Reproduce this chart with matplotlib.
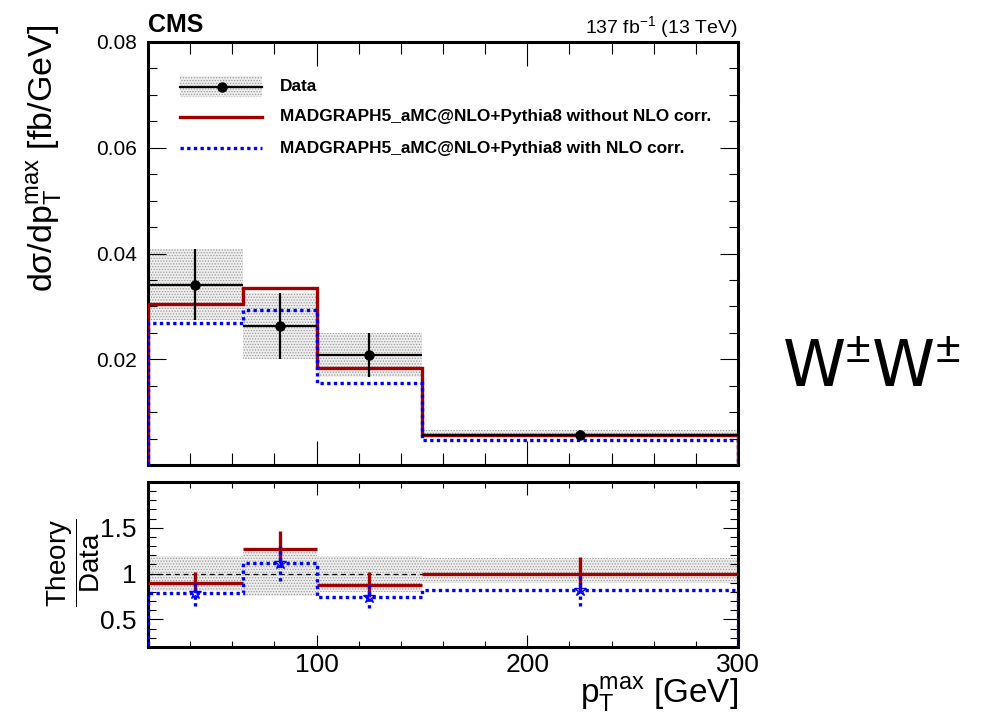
import matplotlib
matplotlib.use("Agg")
import matplotlib.pyplot as plt
import numpy as np
from matplotlib.ticker import MultipleLocator, FixedLocator, FixedFormatter
from matplotlib.lines import Line2D
from matplotlib.patches import Rectangle

plt.rcParams['font.family'] = ['Liberation Sans', 'DejaVu Sans']
plt.rcParams['mathtext.fontset'] = 'custom'
plt.rcParams['mathtext.rm'] = 'Liberation Sans'
plt.rcParams['mathtext.it'] = 'Liberation Sans:italic'
plt.rcParams['mathtext.bf'] = 'Liberation Sans:bold'
plt.rcParams['hatch.linewidth'] = 0.6

# ---- data ----
edges = [20, 65, 100, 150, 300]
data = [0.0341, 0.0263, 0.0208, 0.0057]
data_err_up = [0.0067, 0.0062, 0.0041, 0.0010]
data_err_dn = [0.0066, 0.0063, 0.0042, 0.0006]
pred_noNLO = [0.0305, 0.0335, 0.0183, 0.0057]
pred_NLO = [0.0269, 0.0294, 0.0156, 0.0047]
ratio_noNLO_err_up = [0.12, 0.19, 0.14, 0.18]
ratio_noNLO_err_dn = [0.10, 0.16, 0.13, 0.17]
ratio_NLO_err_up = [0.14, 0.18, 0.15, 0.16]
ratio_NLO_err_dn = [0.14, 0.20, 0.13, 0.18]
legend_labels = ["Data",
                 "MADGRAPH5_aMC@NLO+Pythia8 without NLO corr.",
                 "MADGRAPH5_aMC@NLO+Pythia8 with NLO corr."]

edges_a = np.array(edges, dtype=float)
centers = 0.5 * (edges_a[:-1] + edges_a[1:])
halfw = 0.5 * (edges_a[1:] - edges_a[:-1])
data_a = np.array(data)
up = np.array(data_err_up)
dn = np.array(data_err_dn)
red_a = np.array(pred_noNLO)
blue_a = np.array(pred_NLO)

RED = '#a00000'
BLUE = '#0000ff'
BAND_FC = '#eeeeee'
BAND_HC = '#9a9a9a'
DOTS = (0, (1, 1))

fig = plt.figure(figsize=(9.96, 7.13), dpi=100)
ax1 = fig.add_axes([0.1486, 0.3478, 0.5924, 0.5933])
ax2 = fig.add_axes([0.1486, 0.0926, 0.5924, 0.2314])

# ---- main panel ----
ax1.stairs(data_a + up, edges_a, baseline=data_a - dn, fill=True,
           facecolor=BAND_FC, edgecolor=BAND_HC, hatch='......', lw=0, zorder=1)
ax1.stairs(red_a, edges_a, baseline=0, color=RED, lw=2.4, zorder=3)
ax1.stairs(blue_a, edges_a, baseline=0, color=BLUE, lw=2.4, ls=DOTS, zorder=4)
ax1.errorbar(centers, data_a, yerr=[dn, up], xerr=halfw, fmt='o', color='black',
             ms=6.5, lw=1.6, capsize=0, zorder=5)
ax1.set_xlim(20, 300)
ax1.set_ylim(0, 0.08)

# legend (manual)
tr = ax1.transAxes
def fx(px):
    return (px - 148) / 590.0
def fy(py):
    return (465 - py) / 423.0
ax1.add_patch(Rectangle((fx(180), fy(97)), fx(262) - fx(180), fy(76) - fy(97),
                        transform=tr, facecolor=BAND_FC, edgecolor=BAND_HC,
                        hatch='......', lw=0, zorder=6))
ax1.add_line(Line2D([fx(180), fx(262)], [fy(87), fy(87)], transform=tr,
                    color='black', lw=1.6, zorder=7))
ax1.add_line(Line2D([fx(222)], [fy(87)], transform=tr, marker='o', ms=6.5,
                    color='black', zorder=8))
ax1.add_line(Line2D([fx(180), fx(262)], [fy(117), fy(117)], transform=tr,
                    color=RED, lw=2.4, zorder=7))
ax1.add_line(Line2D([fx(180), fx(262)], [fy(148), fy(148)], transform=tr,
                    color=BLUE, lw=2.4, ls=DOTS, zorder=7))
for lab, py in zip(legend_labels, [87, 117, 148]):
    ax1.text(fx(280), fy(py), lab, transform=tr, fontsize=12.4,
             fontweight='bold', va='center', ha='left', zorder=9)

# ---- ratio panel ----
r_up = 1 + up / data_a
r_dn = 1 - dn / data_a
ax2.stairs(r_up, edges_a, baseline=r_dn, fill=True, facecolor=BAND_FC,
           edgecolor=BAND_HC, hatch='......', lw=0, zorder=1)
ax2.axhline(1, color='black', lw=0.9, ls=(0, (4, 3)), zorder=2)
ratio_red = red_a / data_a
ratio_blue = blue_a / data_a
ax2.hlines(ratio_red, edges_a[:-1], edges_a[1:], color=RED, lw=2.4, zorder=3)
ax2.vlines(centers, ratio_red - np.array(ratio_noNLO_err_dn),
           ratio_red + np.array(ratio_noNLO_err_up), color=RED, lw=2.4, zorder=3)
ax2.stairs(ratio_blue, edges_a, baseline=0, color=BLUE, lw=2.4, ls=DOTS, zorder=4)
ax2.vlines(centers, ratio_blue - np.array(ratio_NLO_err_dn),
           ratio_blue + np.array(ratio_NLO_err_up), color=BLUE, lw=2.4,
           linestyles=[DOTS], zorder=4)
ax2.plot(centers, ratio_blue, ls='none', marker='*', ms=9, mfc='none',
         mec=BLUE, mew=1.0, zorder=5)
ax2.set_xlim(20, 300)
ax2.set_ylim(0.2, 2.0)

# ---- axes styling ----
for ax in (ax1, ax2):
    for s in ax.spines.values():
        s.set_linewidth(2.2)
    ax.xaxis.set_major_locator(FixedLocator([100, 200, 300]))
    ax.xaxis.set_minor_locator(MultipleLocator(20))

TW = 0.8
ax1.yaxis.set_major_locator(FixedLocator([0.02, 0.04, 0.06, 0.08]))
ax1.yaxis.set_major_formatter(FixedFormatter(['0.02', '0.04', '0.06', '0.08']))
ax1.yaxis.set_minor_locator(MultipleLocator(0.005))
ax1.tick_params(axis='x', which='major', direction='in', top=True, bottom=True,
                length=17, width=TW, labelbottom=False)
ax1.tick_params(axis='x', which='minor', direction='in', top=True, bottom=True,
                length=8.5, width=TW)
ax1.tick_params(axis='y', which='major', direction='in', left=True, right=True,
                length=13, width=TW, labelsize=15, pad=8)
ax1.tick_params(axis='y', which='minor', direction='in', left=True, right=True,
                length=6.5, width=TW)

ax2.yaxis.set_major_locator(FixedLocator([0.5, 1.0, 1.5]))
ax2.yaxis.set_major_formatter(FixedFormatter(['0.5', '1', '1.5']))
ax2.yaxis.set_minor_locator(MultipleLocator(0.1))
ax2.xaxis.set_major_formatter(FixedFormatter(['100', '200', '300']))
ax2.tick_params(axis='x', which='major', direction='in', top=True, bottom=True,
                length=9, width=TW, labelsize=19, pad=4)
ax2.tick_params(axis='x', which='minor', direction='in', top=True, bottom=True,
                length=4.5, width=TW)
ax2.tick_params(axis='y', which='major', direction='in', left=True, right=True,
                length=11, width=TW, labelsize=19, pad=8)
ax2.tick_params(axis='y', which='minor', direction='in', left=True, right=True,
                length=6, width=TW)

# ---- texts ----
fig.text(148 / 996, 1 - 32 / 713, 'CMS', fontsize=18, fontweight='bold',
         ha='left', va='baseline')
fig.text(738 / 996, 1 - 33 / 713, r'137 fb$^{\mathregular{-1}}$ (13 TeV)',
         fontsize=14, ha='right', va='baseline')
fig.text(45 / 996, 1 - 25 / 713,
         r'd$\mathregular{\sigma}$/dp$_{\mathregular{T}}^{\mathregular{max}}$ [fb/GeV]',
         fontsize=24.5, rotation=90, ha='center', va='top')
fig.text(738 / 996, 1 - 703 / 713,
         r'p$_{\mathregular{T}}^{\mathregular{max}}$ [GeV]',
         fontsize=24, ha='right', va='baseline')
fig.text(73 / 996, 1 - 563 / 713,
         r'$\dfrac{\mathregular{Theory}}{\mathregular{Data}}$',
         fontsize=20, rotation=90, ha='center', va='center')
fig.text(782 / 996, 1 - 387 / 713, r'W$^{\pm}$W$^{\pm}$', fontsize=46,
         ha='left', va='baseline', family=['DejaVu Sans'])

fig.savefig('out.png', dpi=100)
